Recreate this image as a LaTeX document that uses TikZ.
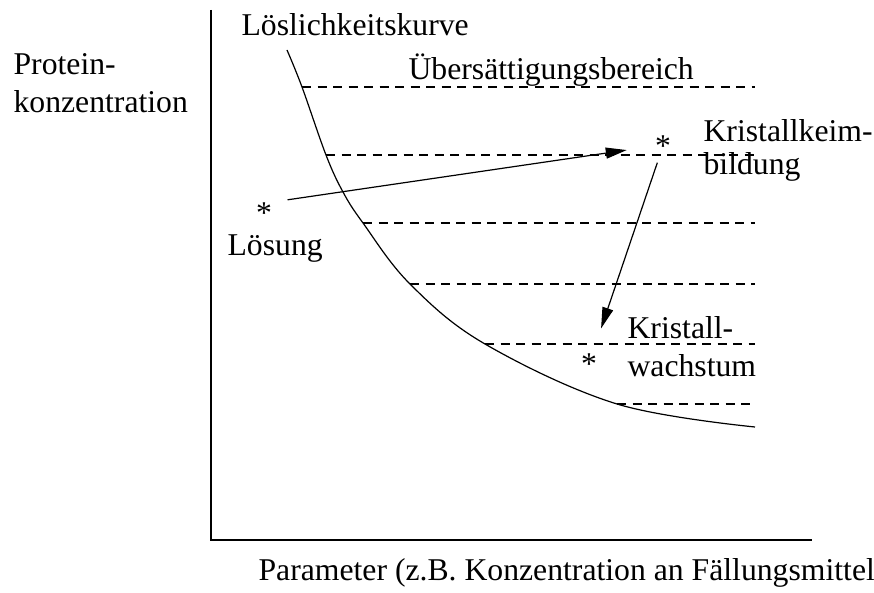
\documentclass[tikz,border=0pt]{standalone}
\usepackage{fontspec}
\setmainfont{Liberation Serif}
\usetikzlibrary{arrows.meta}
\tikzset{
	lbl/.style={inner sep=0pt, anchor=base west, font=\fontsize{15.85}{19}\selectfont},
	stern/.style={inner sep=0pt, font=\fontsize{15.85}{19}\selectfont},
	niveau/.style={dash pattern=on 4.5pt off 3.25pt},
	pfeil/.style={-{Triangle[length=10.5pt,width=5.5pt]}},
}

\begin{document}
\begin{tikzpicture}[x=0.5pt, y=-0.5pt, line width=0.6pt]
		\useasboundingbox (0,0) rectangle (874,593);

		% Achsen
		\draw (211,10) -- (211,540) -- (812,540);

		% Loeslichkeitskurve
		\draw plot[smooth, tension=0.6] coordinates {(287,50) (302,87) (326,155) (343,192) (363,223) (410,284) (485,344) (617,404) (755,427)};

		\foreach \xa/\ya in {302/87, 326/155, 363/223, 410/284, 485/344, 617/404}
			\draw[niveau] (\xa,\ya) -- (755,\ya);

		\node[lbl] (ylab1) at (13,75) {Protein-};
		\node[lbl] (ylab2) at (13,113) {konzentration};
		\node[lbl] (kurve) at (241,36) {Löslichkeitskurve};
		\node[lbl] (uebers) at (408,80) {Übersättigungsbereich};
		\node[lbl] (loesung) at (227,256) {Lösung};
		\node[lbl] (keim1) at (703,142) {Kristallkeim-};
		\node[lbl] (keim2) at (703,175) {bildung};
		\node[lbl] (wachs1) at (627,339) {Kristall-};
		\node[lbl] (wachs2) at (627,377) {wachstum};
		\node[lbl] (xlab) at (258,581) {Parameter (z.B. Konzentration an Fällungsmittel)};

		\node[stern] (s1) at (264,213) {*};
		\node[stern] (s2) at (663,146) {*};
		\node[stern] (s3) at (589,364) {*};

		\draw[pfeil, shorten <=7.6pt, shorten >=14pt] (s1.north east) -- (s2.west);
		\draw[pfeil, shorten <=3pt, shorten >=13pt] (s2) -- (s3);

	\end{tikzpicture}
\end{document}
